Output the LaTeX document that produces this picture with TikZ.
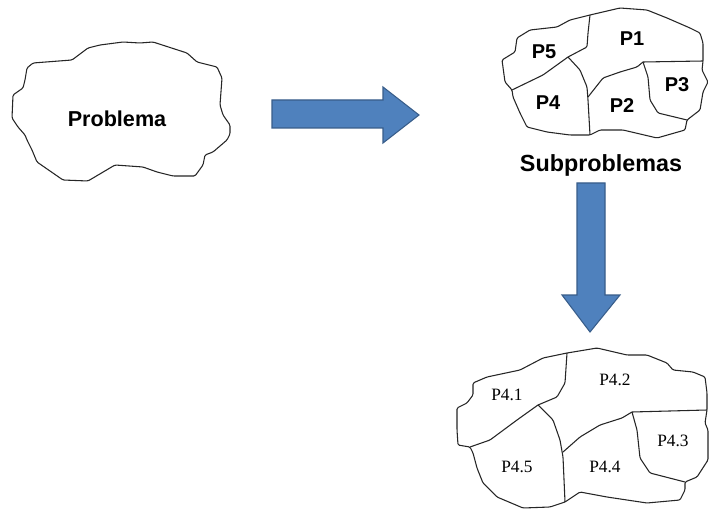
\documentclass[tikz,border=0pt]{standalone}
\usepackage{fontspec}
\setmainfont{Liberation Serif}
\newfontfamily\labelsans{Liberation Sans}
\begin{document}
\begin{tikzpicture}[x=0.75pt,y=-0.75pt,
  outline/.style={draw=black!85,line width=0.8pt,line join=round,rounded corners=1pt},
  blockarrow/.style={fill={rgb,255:red,79;green,129;blue,189},draw={rgb,255:red,56;green,93;blue,138},line width=0.8pt,line join=miter},
  bigtext/.style={font=\labelsans\bfseries\fontsize{16.2}{18}\selectfont,inner sep=0pt},
  parttext/.style={font=\labelsans\bfseries\fontsize{15}{17}\selectfont,inner sep=0pt},
  subtext/.style={font=\fontsize{13}{15}\selectfont,inner sep=0pt}]
\useasboundingbox[fill=white] (0,0) rectangle (709,509);

% --- the whole problem ---
\draw[outline] (25,80) -- (27,68) -- (33,63) -- (72,60) -- (88,48) -- (100,45)
  -- (123,42) -- (140,43) -- (153,42) -- (187,53) -- (197,62) -- (217,67)
  -- (222,78) -- (220,105) -- (223,115) -- (230,125) -- (230,134) -- (227,140)
  -- (213,152) -- (205,155) -- (203,165) -- (195,176) -- (173,176) -- (157,172)
  -- (143,167) -- (115,165) -- (88,181) -- (63,180) -- (37,162) -- (32,150)
  -- (27,140) -- (25,135) -- (18,127) -- (12,118) -- (13,95) -- (23,88) -- cycle;
\node[bigtext] (prob) at (117,119) {Problema};

% --- arrow to the split ---
\draw[blockarrow] (272,100) -- (383,100) -- (383,87) -- (419,115) -- (383,143)
  -- (383,128) -- (272,128) -- cycle;

% --- first split into subproblems ---
\coordinate (s1) at (590,15);
\coordinate (s2) at (568,57);
\coordinate (s3) at (512,90);
\coordinate (s4) at (590,135);
\coordinate (s5) at (588,97);
\coordinate (s6) at (643,62);
\coordinate (s7) at (703,61);
\coordinate (s8) at (687,120);
\draw[outline] (s1) -- (620,8) -- (647,10) -- (667,18) -- (690,28) -- (700,33)
  -- (703,43) -- (s7) -- (702,70) -- (708,82) -- (703,92) -- (700,110) -- (s8)
  -- (685,130) -- (657,138) -- (623,130) -- (600,130) -- (s4) -- (570,135)
  -- (547,132) -- (527,127) -- (520,113) -- (513,97) -- (s3) -- (505,82)
  -- (502,60) -- (515,52) -- (517,38) -- (530,30) -- (557,27) -- (570,20) -- cycle;
\draw[outline] (s1) -- (588,33) -- (587,47) -- (s2);
\draw[outline] (s2) -- (543,75) -- (s3);
\draw[outline] (s2) -- (580,70) -- (587,87) -- (588,100) -- (s4);
\draw[outline] (s5) -- (603,78) -- (620,72) -- (637,67) -- (s6);
\draw[outline] (s6) -- (s7);
\draw[outline] (s6) -- (648,77) -- (650,100) -- (658,113) -- (s8);
\node[parttext] (p5) at (544,52) {P5};
\node[parttext] (p1) at (632,39) {P1};
\node[parttext] (p3) at (677,85) {P3};
\node[parttext] (p4) at (548,103) {P4};
\node[parttext] (p2) at (622,106) {P2};
\node[bigtext,font=\labelsans\bfseries\fontsize{17.5}{19}\selectfont] (subp) at (601,165) {Subproblemas};

% --- arrow down to the second split ---
\draw[blockarrow] (577,183) -- (605,183) -- (605,295) -- (620,295) -- (590,332)
  -- (562,295) -- (577,295) -- cycle;

% --- split of P4 ---
\coordinate (q1) at (567,353);
\coordinate (q2) at (538,405);
\coordinate (q3) at (470,447);
\coordinate (q4) at (565,502);
\coordinate (q5) at (563,452);
\coordinate (q6) at (632,412);
\coordinate (q7) at (707,410);
\coordinate (q8) at (685,482);
\draw[outline] (q1) -- (597,348) -- (627,355) -- (647,355) -- (667,363) -- (673,370)
  -- (693,372) -- (705,377) -- (707,393) -- (q7) -- (705,423) -- (708,430)
  -- (708,460) -- (697,477) -- (q8) -- (685,490) -- (680,500) -- (647,503)
  -- (607,497) -- (580,492) -- (q4) -- (550,507) -- (523,508) -- (497,497)
  -- (483,483) -- (477,468) -- (473,453) -- (q3) -- (458,445) -- (457,430)
  -- (457,408) -- (467,403) -- (473,395) -- (473,383) -- (487,377) -- (520,370)
  -- (543,358) -- cycle;
\draw[outline] (q1) -- (565,383) -- (557,397) -- (q2);
\draw[outline] (q2) -- (517,420) -- (490,440) -- (q3);
\draw[outline] (q2) -- (553,420) -- (560,440) -- (563,457) -- (q4);
\draw[outline] (q5) -- (580,437) -- (600,425) -- (622,418) -- (q6);
\draw[outline] (q6) -- (q7);
\draw[outline] (q6) -- (637,430) -- (640,458) -- (650,473) -- (q8);
\node[subtext] (p41) at (507,395) {P4.1};
\node[subtext] (p42) at (615,380) {P4.2};
\node[subtext] (p43) at (673,441) {P4.3};
\node[subtext] (p45) at (517,467) {P4.5};
\node[subtext] (p44) at (605,467) {P4.4};
\end{tikzpicture}
\end{document}
